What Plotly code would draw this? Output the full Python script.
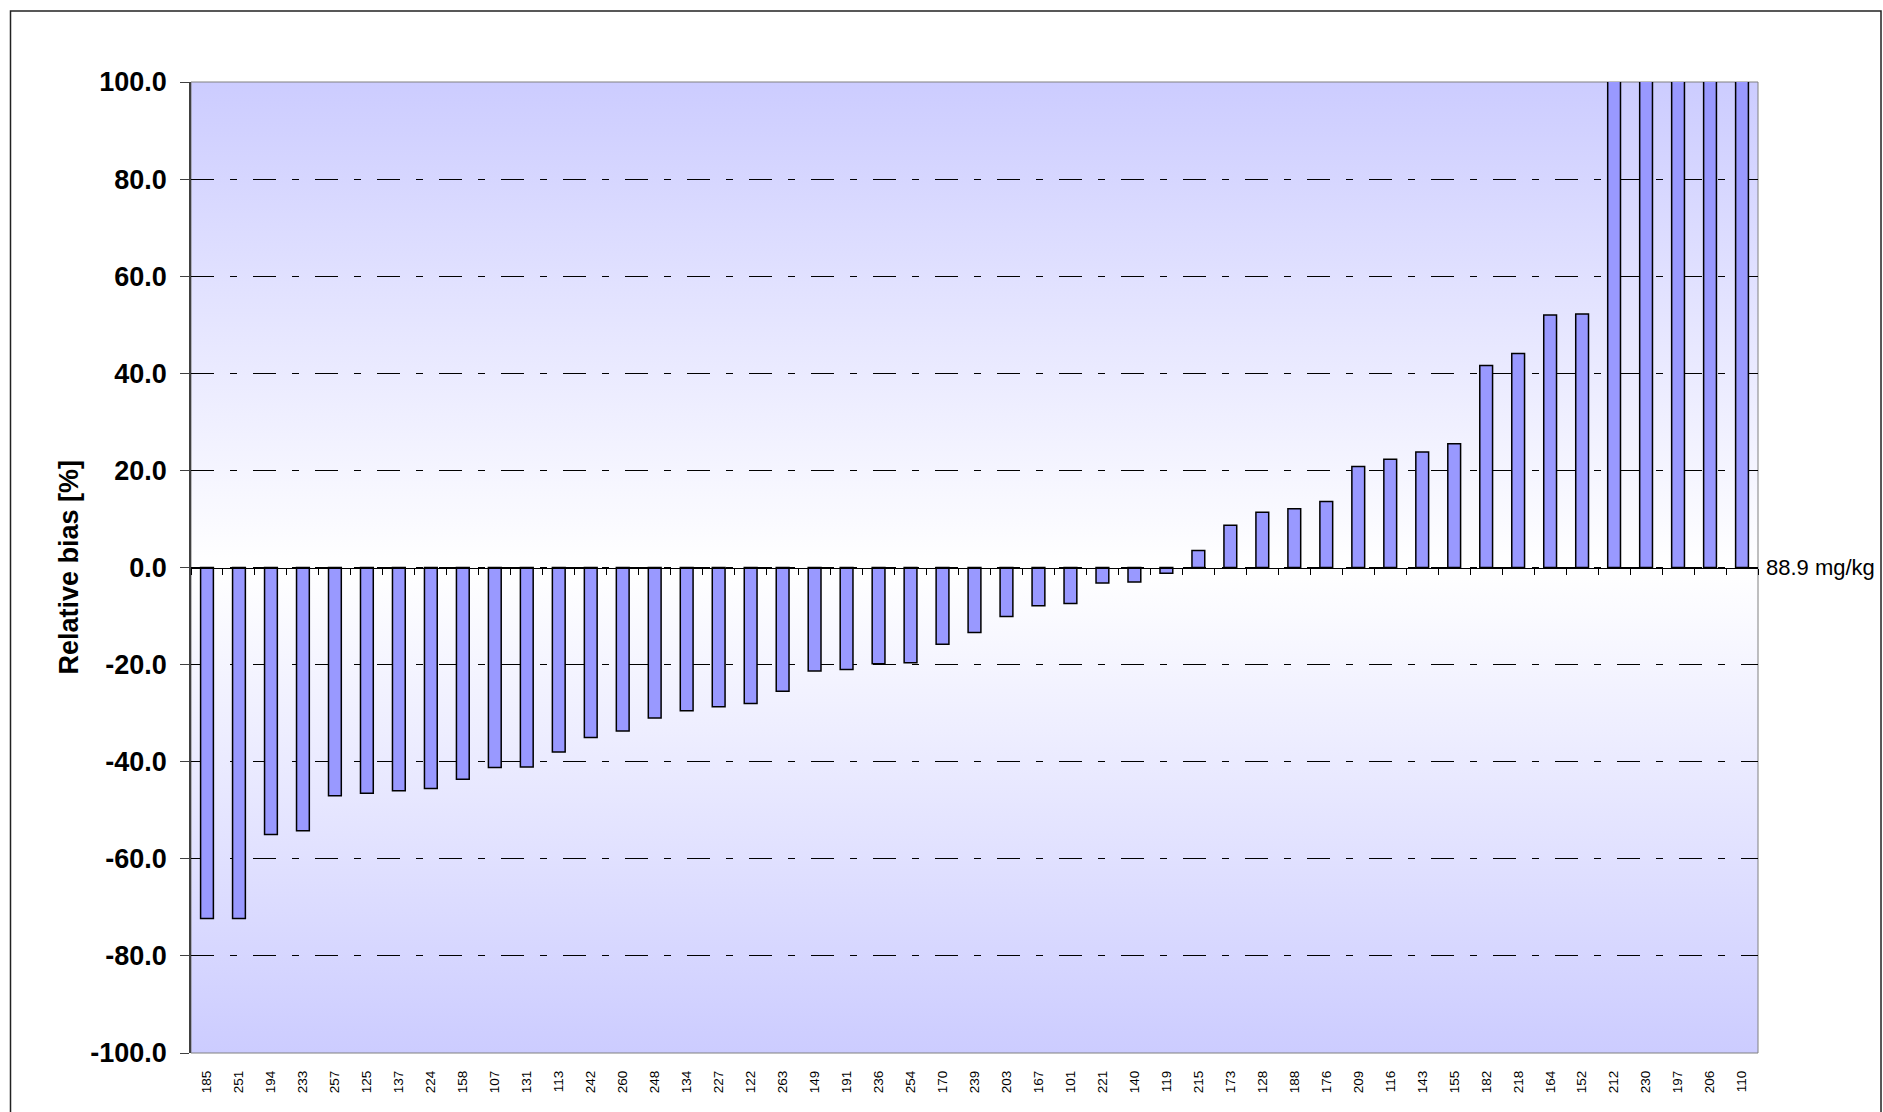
import base64
import plotly.graph_objects as go

# ---- data ----
labs = ["185", "251", "194", "233", "257", "125", "137", "224", "158", "107",
        "131", "113", "242", "260", "248", "134", "227", "122", "263", "149",
        "191", "236", "254", "170", "239", "203", "167", "101", "221", "140",
        "119", "215", "173", "128", "188", "176", "209", "116", "143", "155",
        "182", "218", "164", "152", "212", "230", "197", "206", "110"]
bias = [-72.3, -72.3, -55.0, -54.2, -47.0, -46.5, -46.0, -45.5, -43.6, -41.2,
        -41.1, -38.0, -35.0, -33.7, -31.0, -29.5, -28.7, -28.0, -25.5, -21.3,
        -21.0, -19.8, -19.6, -15.8, -13.4, -10.1, -7.9, -7.4, -3.2, -3.0,
        -1.2, 3.5, 8.7, 11.4, 12.1, 13.6, 20.8, 22.3, 23.8, 25.5,
        41.6, 44.1, 52.0, 52.2, 120.0, 130.0, 140.0, 150.0, 160.0]
ytick_vals = [-100, -80, -60, -40, -20, 0, 20, 40, 60, 80, 100]
ytick_text = [f"{v:.1f}" for v in ytick_vals]
y_title = "Relative bias [%]"
ref_note = "88.9 mg/kg"

FONT = "Liberation Sans, Arial, sans-serif"
W, H = 1883, 1112
L, R, T, B = 191, 125, 82, 59
pw, ph = W - L - R, H - T - B

def px_x(p):
    return (p - L) / pw

def px_y(p):
    return (H - B - p) / ph

svg = ('<svg xmlns="http://www.w3.org/2000/svg" width="10" height="100" viewBox="0 0 10 100" '
       'preserveAspectRatio="none"><defs><linearGradient id="g" x1="0" y1="0" x2="0" y2="1">'
       '<stop offset="0" stop-color="#CCCCFF"/><stop offset="0.5" stop-color="#FFFFFF"/>'
       '<stop offset="1" stop-color="#CCCCFF"/></linearGradient></defs>'
       '<rect width="10" height="100" fill="url(#g)"/></svg>')
svg_uri = "data:image/svg+xml;base64," + base64.b64encode(svg.encode()).decode()

fig = go.Figure()
fig.add_trace(go.Bar(
    x=labs, y=bias,
    marker=dict(color="#9999FF", line=dict(color="black", width=1.5)),
    hoverinfo="x+y", showlegend=False,
))
# invisible helper trace so the zero-line axis gets the same categories
fig.add_trace(go.Scatter(
    x=labs, y=bias, xaxis="x2", mode="markers",
    marker=dict(opacity=0), hoverinfo="skip", showlegend=False,
))

fig.update_layout(
    width=W, height=H,
    margin=dict(l=L, r=R, t=T, b=B),
    paper_bgcolor="white",
    plot_bgcolor="rgba(0,0,0,0)",
    bargap=0.6,
    font=dict(family=FONT, color="black"),
    xaxis=dict(
        type="category", range=[-0.5, len(labs) - 0.5],
        showgrid=False, zeroline=False, showline=False,
        ticks="", tickangle=-90,
        tickfont=dict(family=FONT, size=13.5, color="black"),
        ticklabelstandoff=14,
    ),
    xaxis2=dict(
        type="category", overlaying="x", matches="x",
        anchor="free", position=0.5,
        showgrid=False, zeroline=False,
        showline=True, linecolor="black", linewidth=1.2,
        ticks="outside", tickson="boundaries", ticklen=6, tickwidth=1, tickcolor="black",
        showticklabels=False,
    ),
    yaxis=dict(
        range=[-100, 100], tickvals=ytick_vals, ticktext=ytick_text,
        showgrid=True, gridcolor="black", gridwidth=1,
        griddash="23px,16px,7px,16px",
        zeroline=False,
        showline=True, linecolor="#404040", linewidth=1.5,
        ticks="outside", ticklen=9, tickwidth=1, tickcolor="#404040",
        tickfont=dict(family=FONT, size=27, color="black", weight="bold"),
        ticklabelstandoff=8,
    ),
    images=[dict(
        source=svg_uri, xref="paper", yref="paper",
        x=0, y=1, sizex=1, sizey=1, sizing="stretch",
        xanchor="left", yanchor="top", layer="below",
    )],
    shapes=[
        dict(type="rect", xref="paper", yref="paper", x0=0, x1=1, y0=0, y1=1,
             line=dict(color="#808080", width=1), fillcolor="rgba(0,0,0,0)", layer="below"),
        dict(type="rect", xref="paper", yref="paper",
             x0=px_x(10.5), x1=px_x(1881), y0=px_y(1125), y1=px_y(11),
             line=dict(color="#222222", width=1.5), fillcolor="rgba(0,0,0,0)", layer="above"),
    ],
    annotations=[
        dict(text=y_title, xref="paper", yref="paper", x=px_x(68), y=0.5,
             xanchor="center", yanchor="middle", textangle=-90, showarrow=False,
             font=dict(family=FONT, size=27, color="black", weight="bold")),
        dict(text=ref_note, xref="paper", yref="paper", x=px_x(1764), y=0.5,
             xanchor="left", yanchor="middle", showarrow=False,
             font=dict(family=FONT, size=22, color="black")),
    ],
)

fig.write_html("out.html", config={"displayModeBar": False},
               post_script="document.body.style.margin='0';document.body.style.overflow='hidden';")
